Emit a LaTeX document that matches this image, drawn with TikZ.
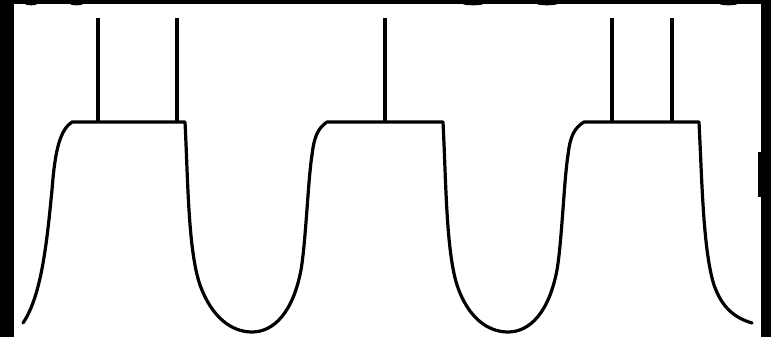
\documentclass[tikz,border=0pt]{standalone}
\begin{document}
\begin{tikzpicture}[x=1pt,y=-1pt,
  wave/.style={line width=3.2pt,line join=round,line cap=round},
  probe/.style={line width=4pt}]
\useasboundingbox (0,0) rectangle (771,337);
% frame
\fill[black] (0,0) rectangle (771,337);
\fill[white] (14,4) rectangle (761,337);
\fill[black] (758,152) rectangle (761,197);
% cut-off marks at top edge
\foreach \a/\b in {25/37,70/83,463/483,537/557,720/737}
  \fill[black] ({(\a+\b)/2},4) ellipse ({(\b-\a)/2} and 1.3);
% probes
\foreach \px in {98,177,385,612,672}
  \draw[probe] (\px,18) -- (\px,122);
% waveform
\draw[wave] (23,323) .. controls (42,295) and (47,240) .. (52,190)
  .. controls (55,150) and (60,130) .. (72,122) -- (185,122)
  .. controls (188,180) and (188,250) .. (200,285)
  .. controls (212,318) and (232,332) .. (252,332)
  .. controls (274,332) and (293,312) .. (301,270)
  .. controls (306,240) and (308,180) .. (312,155)
  .. controls (314,137) and (318,128) .. (327,122) -- (443,122)
  .. controls (446,180) and (446,250) .. (457,285)
  .. controls (468,318) and (488,332) .. (508,332)
  .. controls (530,332) and (549,312) .. (557,270)
  .. controls (562,240) and (564,180) .. (568,155)
  .. controls (570,137) and (574,128) .. (584,122) -- (699,122)
  .. controls (702,180) and (703,250) .. (714,285)
  .. controls (722,308) and (735,318) .. (752,323);
\end{tikzpicture}
\end{document}
